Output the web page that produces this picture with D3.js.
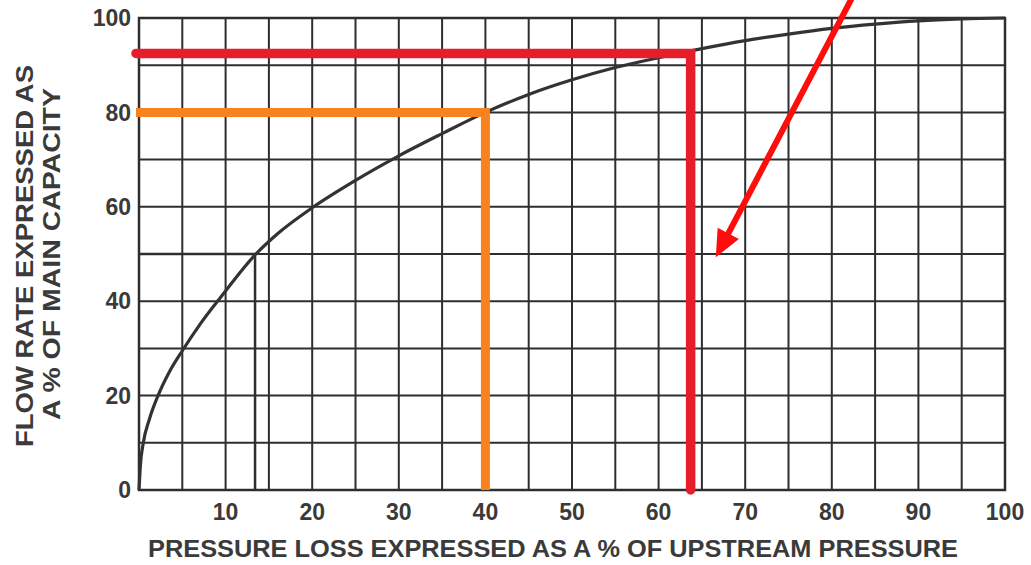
<!DOCTYPE html>
<html>
<head>
<meta charset="utf-8">
<script src="https://cdn.jsdelivr.net/npm/d3@7"></script>
<style>
  html, body { margin: 0; padding: 0; background: #fff; }
  svg { display: block; }
  text { font-family: "Liberation Sans", Arial, sans-serif; font-weight: bold; fill: #3a3a3a; }
</style>
</head>
<body>
<svg id="chart" width="1031" height="565"></svg>
<script>
// ---- data ----
const curveX = [0, 0.15, 0.5, 1.2, 2.2, 3.5, 5, 7, 9.5, 13.5, 16, 20, 25, 30, 35, 40, 45, 50, 55, 60, 65, 70, 75, 80, 85, 90, 95, 100];
const curveY = [0, 5, 10, 15, 20, 25, 29.5, 35, 41, 50, 54.3, 59.8, 65.6, 70.8, 75.5, 80, 83.8, 86.9, 89.5, 91.6, 93.5, 95.2, 96.6, 97.8, 98.7, 99.4, 99.8, 100];
const xTicks = [10, 20, 30, 40, 50, 60, 70, 80, 90, 100];
const yTicks = [0, 20, 40, 60, 80, 100];
const xGrid = d3.range(0, 101, 5);
const yGrid = d3.range(0, 101, 10);
const dropPoint = [13.4, 50];      // thin black guide
const orangePoint = [40, 80];      // orange guide
const redPoint = [63.7, 92.5];     // red guide
const arrowFrom = [82.4, 104.5];   // red pointer arrow
const arrowTo = [66.6, 49.3];
const xTitle = "PRESSURE LOSS EXPRESSED AS A % OF UPSTREAM PRESSURE";
const yTitle = ["FLOW RATE EXPRESSED AS", "A % OF MAIN CAPACITY"];

// ---- scales ----
const x = d3.scaleLinear().domain([0, 100]).range([139, 1005]);
const y = d3.scaleLinear().domain([0, 100]).range([490, 18]);

const svg = d3.select("#chart");
const ink = "#2e2e2e";

// grid
svg.append("g").selectAll("line").data(xGrid).join("line")
  .attr("x1", d => x(d)).attr("x2", d => x(d))
  .attr("y1", y(0)).attr("y2", y(100))
  .attr("stroke", ink).attr("stroke-width", 2);
svg.append("g").selectAll("line").data(yGrid).join("line")
  .attr("x1", x(0)).attr("x2", x(100))
  .attr("y1", d => y(d)).attr("y2", d => y(d))
  .attr("stroke", ink).attr("stroke-width", 2);
// frame
svg.append("rect").attr("x", x(0)).attr("y", y(100))
  .attr("width", x(100) - x(0)).attr("height", y(0) - y(100))
  .attr("fill", "none").attr("stroke", ink).attr("stroke-width", 2.5);

// thin drop lines
svg.append("path")
  .attr("d", `M${x(0)},${y(dropPoint[1])}H${x(dropPoint[0])}V${y(0)}`)
  .attr("fill", "none").attr("stroke", ink).attr("stroke-width", 2.5);

// curve
const pts = curveX.map((d, i) => [d, curveY[i]]);
svg.append("path").datum(pts)
  .attr("d", d3.line().x(d => x(d[0])).y(d => y(d[1])).curve(d3.curveMonotoneX))
  .attr("fill", "none").attr("stroke", "#333").attr("stroke-width", 3.2)
  .attr("stroke-linejoin", "round");

// orange guide
svg.append("path")
  .attr("d", `M${x(0) - 3},${y(orangePoint[1])}H${x(orangePoint[0])}V${y(0)}`)
  .attr("fill", "none").attr("stroke", "#f7821f").attr("stroke-width", 9)
  .attr("stroke-linejoin", "miter");

// red guide
svg.append("path")
  .attr("d", `M${x(0) - 3},${y(redPoint[1])}H${x(redPoint[0])}V${y(0)}`)
  .attr("fill", "none").attr("stroke", "#e81d2a").attr("stroke-width", 9.5)
  .attr("stroke-linecap", "round").attr("stroke-linejoin", "miter");

// arrow
{
  const x0 = x(arrowFrom[0]), y0 = y(arrowFrom[1]);
  const x1 = x(arrowTo[0]), y1 = y(arrowTo[1]);
  const dx = x1 - x0, dy = y1 - y0, L = Math.hypot(dx, dy);
  const ux = dx / L, uy = dy / L, px = -uy, py = ux;
  const hl = 27, hw = 12;
  const bx = x1 - ux * hl, by = y1 - uy * hl;
  svg.append("line").attr("x1", x0).attr("y1", y0).attr("x2", bx + ux * 3).attr("y2", by + uy * 3)
    .attr("stroke", "#ff0d0d").attr("stroke-width", 6);
  svg.append("path")
    .attr("d", `M${x1},${y1}L${bx + px * hw},${by + py * hw}L${bx - px * hw},${by - py * hw}Z`)
    .attr("fill", "#ff0d0d");
}

// tick labels
svg.append("g").selectAll("text").data(xTicks).join("text")
  .attr("x", d => x(d)).attr("y", 520)
  .attr("text-anchor", "middle").attr("font-size", 23)
  .text(d => d);
svg.append("g").selectAll("text").data(yTicks).join("text")
  .attr("x", 131).attr("y", d => y(d)).attr("dy", "0.36em")
  .attr("text-anchor", "end").attr("font-size", 23)
  .text(d => d);

// axis titles
svg.append("text").attr("x", 553).attr("y", 557)
  .attr("text-anchor", "middle").attr("font-size", 23)
  .attr("textLength", 810).attr("lengthAdjust", "spacingAndGlyphs")
  .text(xTitle);
svg.append("text").attr("transform", "translate(33,256) rotate(-90)")
  .attr("text-anchor", "middle").attr("font-size", 23)
  .attr("textLength", 382).attr("lengthAdjust", "spacingAndGlyphs")
  .text(yTitle[0]);
svg.append("text").attr("transform", "translate(60,254) rotate(-90)")
  .attr("text-anchor", "middle").attr("font-size", 23)
  .attr("textLength", 332).attr("lengthAdjust", "spacingAndGlyphs")
  .text(yTitle[1]);
</script>
</body>
</html>
